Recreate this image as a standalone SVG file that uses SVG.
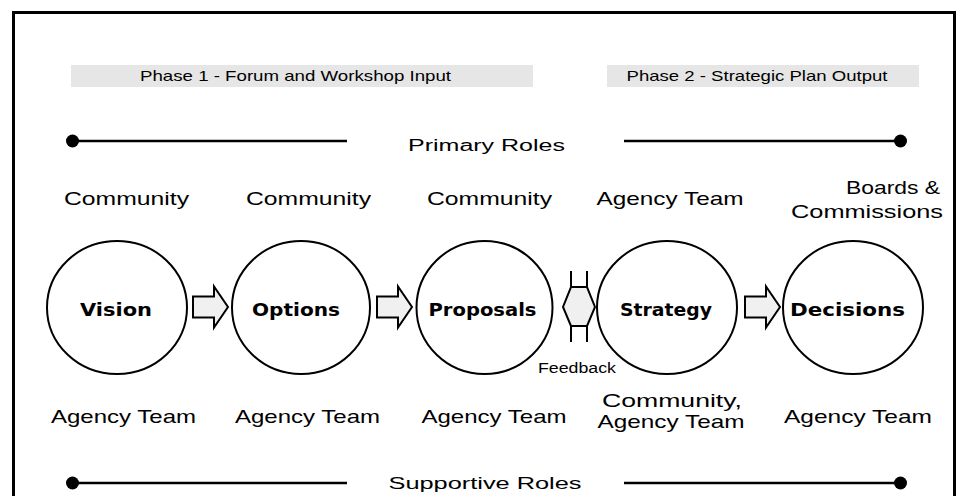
<svg xmlns="http://www.w3.org/2000/svg" width="960" height="496" viewBox="0 0 960 496">
<style>
.frame{fill:none;stroke:#000;stroke-width:3}
.bar{fill:#e6e6e6}
.rule{stroke:#000;stroke-width:2.5}
.dot{fill:#000}
.node{fill:#fff;stroke:#000;stroke-width:2}
.arrow{fill:#f0f0f0;stroke:#000;stroke-width:2;stroke-linejoin:miter}
.t{font-family:"Liberation Sans",Arial,sans-serif;fill:#000;text-anchor:middle}
.role{font-size:19px}
.phase{font-size:15px}
.band{font-size:16px}
.lbl{font-family:"DejaVu Sans",Verdana,sans-serif;font-weight:bold;font-size:17px;text-anchor:middle;fill:#000}
.fb{font-size:14px}
</style>
<rect width="960" height="496" fill="#fff"/>
<rect class="frame" x="13.5" y="12.5" width="941" height="500"/>

<g id="phase1">
<rect class="bar" x="71" y="65" width="462" height="22"/>
<text class="t phase" x="295.5" y="81" textLength="311" lengthAdjust="spacingAndGlyphs">Phase 1 - Forum and Workshop Input</text>
</g>
<g id="phase2">
<rect class="bar" x="607" y="65" width="312" height="22"/>
<text class="t phase" x="757" y="81" textLength="261" lengthAdjust="spacingAndGlyphs">Phase 2 - Strategic Plan Output</text>
</g>

<g id="primary-roles">
<line class="rule" x1="72" y1="141" x2="347" y2="141"/>
<circle class="dot" cx="72.5" cy="141" r="6.5"/>
<line class="rule" x1="624" y1="141" x2="900" y2="141"/>
<circle class="dot" cx="900.5" cy="141" r="6.5"/>
<text class="t band" x="486.5" y="151" textLength="157" lengthAdjust="spacingAndGlyphs">Primary Roles</text>
</g>

<g id="supportive-roles">
<line class="rule" x1="72" y1="483" x2="347" y2="483"/>
<circle class="dot" cx="72.5" cy="483" r="6.5"/>
<line class="rule" x1="624" y1="483" x2="900" y2="483"/>
<circle class="dot" cx="900.5" cy="483" r="6.5"/>
<text class="t band" x="485" y="489" textLength="193" lengthAdjust="spacingAndGlyphs">Supportive Roles</text>
</g>

<g id="primary-labels">
<text class="t role" x="126.5" y="205" textLength="125" lengthAdjust="spacingAndGlyphs">Community</text>
<text class="t role" x="308.5" y="205" textLength="125" lengthAdjust="spacingAndGlyphs">Community</text>
<text class="t role" x="489.5" y="205" textLength="125" lengthAdjust="spacingAndGlyphs">Community</text>
<text class="t role" x="670" y="205" textLength="147" lengthAdjust="spacingAndGlyphs">Agency Team</text>
<text class="t role" x="893" y="194" textLength="94" lengthAdjust="spacingAndGlyphs">Boards &amp;</text>
<text class="t role" x="867" y="218" textLength="152" lengthAdjust="spacingAndGlyphs">Commissions</text>
</g>

<g id="supportive-labels">
<text class="t role" x="123.5" y="423" textLength="145" lengthAdjust="spacingAndGlyphs">Agency Team</text>
<text class="t role" x="307.5" y="423" textLength="145" lengthAdjust="spacingAndGlyphs">Agency Team</text>
<text class="t role" x="494" y="423" textLength="145" lengthAdjust="spacingAndGlyphs">Agency Team</text>
<text class="t role" x="672" y="407" textLength="140" lengthAdjust="spacingAndGlyphs">Community,</text>
<text class="t role" x="671" y="428" textLength="147" lengthAdjust="spacingAndGlyphs">Agency Team</text>
<text class="t role" x="858" y="423" textLength="148" lengthAdjust="spacingAndGlyphs">Agency Team</text>
</g>

<g id="vision">
<ellipse class="node" cx="117" cy="307.5" rx="70" ry="66.5"/>
<text class="lbl" x="116" y="316" textLength="72" lengthAdjust="spacingAndGlyphs">Vision</text>
</g>
<g id="options">
<ellipse class="node" cx="301" cy="307.5" rx="69" ry="66.5"/>
<text class="lbl" x="296" y="316" textLength="88" lengthAdjust="spacingAndGlyphs">Options</text>
</g>
<g id="proposals">
<ellipse class="node" cx="484.5" cy="307.5" rx="68" ry="66.5"/>
<text class="lbl" x="482.5" y="316" textLength="108" lengthAdjust="spacingAndGlyphs">Proposals</text>
</g>
<g id="strategy">
<ellipse class="node" cx="667" cy="307.5" rx="70" ry="66.5"/>
<text class="lbl" x="666" y="316" textLength="92" lengthAdjust="spacingAndGlyphs">Strategy</text>
</g>
<g id="decisions">
<ellipse class="node" cx="853" cy="307.5" rx="70" ry="66.5"/>
<text class="lbl" x="847.5" y="316" textLength="115" lengthAdjust="spacingAndGlyphs">Decisions</text>
</g>

<g id="connectors">
<polygon class="arrow" points="193,296.5 214,296.5 214,286.5 228,307 214,327.5 214,317.5 193,317.5"/>
<polygon class="arrow" points="377,296.5 398,296.5 398,286.5 412,307 398,327.5 398,317.5 377,317.5"/>
<polygon class="arrow" points="745,296.5 766,296.5 766,286.5 780,307 766,327.5 766,317.5 745,317.5"/>
<g id="feedback">
<polygon points="571,287 587,287 595,307 587,326 571,326 563,307" fill="#f0f0f0"/>
<path d="M571,271 L571,287 L563,307 L571,326 L571,342 M587,271 L587,287 L595,307 L587,326 L587,342 M571,287 H587 M571,326 H587" fill="none" stroke="#000" stroke-width="2"/>
<text class="t fb" x="577" y="373" textLength="78" lengthAdjust="spacingAndGlyphs">Feedback</text>
</g>
</g>
</svg>
